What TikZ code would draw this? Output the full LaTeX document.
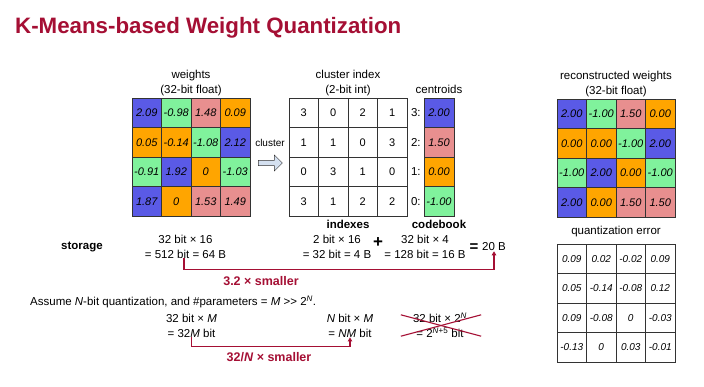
\documentclass[tikz,border=0pt]{standalone}
\usepackage{fontspec}
\setmainfont{Liberation Sans}
\usetikzlibrary{shapes.arrows,arrows.meta,positioning}
\definecolor{titlered}{HTML}{A50F34}
\definecolor{cl0}{HTML}{80F29C}
\definecolor{cl1}{HTML}{FFA500}
\definecolor{cl2}{HTML}{E88F8F}
\definecolor{cl3}{HTML}{5A5AE6}
\definecolor{arrowfill}{HTML}{D4E0F0}
\newcommand{\cval}[1]{\ifcase#1 -1.00\or 0.00\or 1.50\or 2.00\fi}
\tikzset{caption/.style={font=\fontsize{11.5}{15}\selectfont, align=center, inner sep=0pt},
	bold_caption/.style={font=\fontsize{11.5}{15}\selectfont\bfseries, inner sep=0pt},
	red_caption/.style={font=\fontsize{12.5}{15}\selectfont\bfseries, text=titlered, inner sep=0pt},
	red_line/.style={draw=titlered, line width=1.1pt}
}
\tikzstyle{weight_cell} = [draw=black!80, minimum size=29.5pt, inner sep=0pt, font=\fontsize{11}{13}\selectfont\itshape]
\tikzstyle{index_cell} = [weight_cell, font=\fontsize{11}{13}\selectfont]
\tikzstyle{error_cell} = [weight_cell, font=\fontsize{10}{12}\selectfont\itshape]

\begin{document}
\begin{tikzpicture}[x=1pt, y=-1pt]
	\fill[white] (0,0) rectangle (704,386);
	\node[anchor=base west, inner sep=0pt, font=\fontsize{22.3}{26}\selectfont\bfseries, text=titlered] (title) at (15,33) {K-Means-based Weight Quantization};

	% the four grids
	\foreach \w/\k/\e [count=\n from 0] in {2.09/3/0.09, -0.98/0/0.02, 1.48/2/-0.02, 0.09/1/0.09,
			0.05/1/0.05, -0.14/1/-0.14, -1.08/0/-0.08, 2.12/3/0.12,
			-0.91/0/0.09, 1.92/3/-0.08, 0/1/0, -1.03/0/-0.03,
			1.87/3/-0.13, 0/1/0, 1.53/2/0.03, 1.49/2/-0.01}{
		\pgfmathtruncatemacro\r{div(\n,4)}
		\pgfmathtruncatemacro\c{mod(\n,4)}
		\node[weight_cell, fill=cl\k] (w-\r-\c) at (146.75+29.5*\c, 112.75+29.5*\r) {\w};
		\node[index_cell] (ci-\r-\c) at (303.75+29.5*\c, 112.75+29.5*\r) {\k};
		\node[weight_cell, fill=cl\k] (rw-\r-\c) at (571.75+29.5*\c, 113.75+29.5*\r) {\cval{\k}};
		\node[error_cell] (qe-\r-\c) at (571.75+29.5*\c, 258.75+29.5*\r) {\e};
	}
	% codebook
	\foreach \k/\v [count=\n from 0] in {3/2.00, 2/1.50, 1/0.00, 0/-1.00}{
		\node[weight_cell, fill=cl\k, minimum width=30pt] (cb-\k) at (439, 112.75+29.5*\n) {\v};
		\node[caption, anchor=east] (cbl-\k) at ([xshift=-3pt]cb-\k.west) {\k:};
	}

	\node[caption] (w_title) at (191,83.5) {weights\\(32-bit float)};
	\node[caption] (ci_title) at (348,83.5) {cluster index\\(2-bit int)};
	\node[caption] (cb_title) at (439,89) {centroids};
	\node[caption] (rw_title) at (616,84.5) {reconstructed weights\\(32-bit float)};
	\node[caption] (qe_title) at (616,232) {quantization error};
	\node[bold_caption] (idx_title) at (348,224) {indexes};
	\node[bold_caption] (cbk_title) at (439,224) {codebook};

	\node[single arrow, draw=black!80, fill=arrowfill, minimum height=24pt, minimum width=16pt,
		single arrow head extend=3.5pt, inner sep=1.5pt] (clu_arrow) at (269,163) {};
	\node[caption, font=\fontsize{10}{12}\selectfont] (clu_text) at (270,143) {cluster};

	% storage
	\node[bold_caption] (storage) at (82,247) {storage};
	\node[caption] (st_w) at (185.5,246.5) {32 bit × 16\\= 512 bit = 64 B};
	\node[caption] (st_i) at (337,246.5) {2 bit × 16\\= 32 bit = 4 B};
	\node[inner sep=0pt, font=\fontsize{17}{17}\selectfont\bfseries] (plus) at (378,243) {+};
	\node[caption] (st_c) at (425,246.5) {32 bit × 4\\= 128 bit = 16 B};
	\node[inner sep=0pt, font=\fontsize{15}{15}\selectfont\bfseries] (eq) at (474,248) {=};
	\node[caption] (st_total) at (494,247) {20 B};
	\draw[red_line, -{Triangle[length=4pt, width=4.5pt]}] ([xshift=-1.5pt]st_w.south) -- ++(0,11) -| (st_total.south);
	\node[red_caption] (gain) at (261,281) {3.2 × smaller};

	% N-bit case
	\node[caption, anchor=west] (assume) at (30,302) {Assume \textit{N}-bit quantization, and \#parameters = \textit{M} >{}> 2\textsuperscript{\textit{N}}.};
	\node[caption] (lo_w) at (191.5,325.5) {32 bit × \textit{M}\\= 32\textit{M} bit};
	\node[caption] (lo_q) at (350,325.5) {\textit{N} bit × \textit{M}\\= \textit{NM} bit};
	\node[caption] (lo_c) at (440,325.5) {32 bit × 2\textsuperscript{\textit{N}}\\= 2\textsuperscript{\textit{N}+5} bit};
	\draw[red_line] ([xshift=-12pt, yshift=-2pt]lo_c.north west) -- ([xshift=14pt, yshift=2pt]lo_c.south east);
	\draw[red_line] ([xshift=-12pt, yshift=2pt]lo_c.south west) -- ([xshift=14pt, yshift=-2pt]lo_c.north east);
	\draw[red_line, -{Triangle[length=4pt, width=4.5pt]}] (lo_w.south) -- ++(0,9) -| (lo_q.south);
	\node[red_caption] (gain_n) at (269,357) {32/\textit{N} × smaller};
\end{tikzpicture}
\end{document}
